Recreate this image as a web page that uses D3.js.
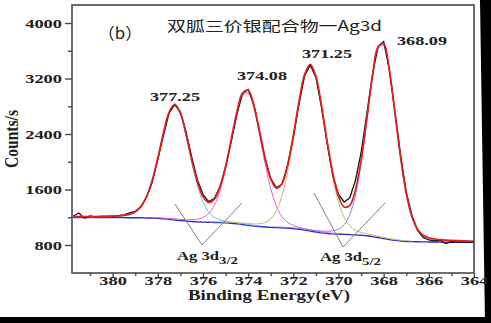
<!DOCTYPE html>
<html><head><meta charset="utf-8">
<script src="https://cdn.jsdelivr.net/npm/d3@7"></script>
<style>body{margin:0;background:#fff}svg{display:block}</style>
</head><body>
<script>
// ---------- data ----------
const E_START = 381.75, E_STEP = 0.25;            // measured energy grid (eV)
const counts = [1215,1262,1185,1218,1205,1212,1208,1215,1222,1235,1262,1285,1350,1490,1700,2030,2380,2700,2825,2720,2430,2070,1740,1530,1425,1470,1640,1920,2290,2680,2985,3040,2830,2440,2050,1760,1625,1680,1950,2360,2830,3240,3395,3220,2780,2260,1800,1530,1420,1480,1730,2130,2680,3250,3660,3735,3330,2720,2100,1560,1230,1010,910,872,860,868,822,850,845,842,840,838];
const background = [1196,1196,1196,1195,1195,1195,1195,1195,1194,1194,1193,1193,1192,1190,1188,1184,1178,1171,1161,1152,1144,1138,1133,1130,1127,1125,1123,1119,1113,1105,1096,1085,1074,1066,1059,1054,1051,1047,1043,1035,1026,1014,1000,987,975,966,960,956,953,950,946,940,933,921,907,892,878,866,857,851,848,846,845,844,843,842,841,840,840,839,839,838];
const peakCenters = [377.25, 374.08, 371.25, 368.09];
const peakHeights = [1645, 1920, 2367, 2816];
const peakFWHM    = [1.55, 1.6, 1.6, 1.5];
const lorentzFraction = 0.12;
const peakColors = ["#5cc6e6", "#ee5ad8", "#b9ba72", "#8f80f2"];
const yTicks = [800, 1600, 2400, 3200, 4000];
const yMinor = [1200, 2000, 2800, 3600];
const xTicks = [380, 378, 376, 374, 372, 370, 368, 366, 364];
const xMinor = [381, 379, 377, 375, 373, 371, 369, 367, 365];
const title = "双胍三价银配合物一Ag3d";
const panel = "（b）";
const peakLabels = ["377.25", "374.08", "371.25", "368.09"];

// ---------- setup ----------
const W = 491, H = 323;
const svg = d3.select("body").append("svg").attr("width", W).attr("height", H);
const serif = "'Liberation Serif','Times New Roman',serif";
const x = d3.scaleLinear().domain([381.8, 364]).range([72, 474]);
const y = d3.scaleLinear().domain([396, 4260]).range([273, 5]);

const energy = counts.map((_, i) => E_START - i * E_STEP);
function voigt(e, k) {
  const d = e - peakCenters[k], w = peakFWHM[k];
  const g = Math.exp(-4 * Math.LN2 * d * d / (w * w));
  const l = 1 / (1 + 4 * d * d / (w * w));
  return peakHeights[k] * ((1 - lorentzFraction) * g + lorentzFraction * l);
}
const comps = peakCenters.map((c, k) => energy.map((e, i) => ({e, v: voigt(e, k), b: background[i]})));
const fit = energy.map((e, i) => ({e, v: background[i] + d3.sum(peakCenters, (c, k) => voigt(e, k))}));

// ---------- black edges of the scan ----------
svg.append("polygon").attr("points", "480,0 491,0 491,323 485,323").attr("fill", "#000");
svg.append("rect").attr("x", 0).attr("y", 317).attr("width", W).attr("height", 6).attr("fill", "#000");

const plot = svg.append("g");
plot.append("clipPath").attr("id", "c").append("rect").attr("x", 72).attr("y", 5).attr("width", 402).attr("height", 268);
const g = plot.append("g").attr("clip-path", "url(#c)");

const line = d3.line().curve(d3.curveCatmullRom.alpha(0.5));

// background
g.append("path").attr("d", line(energy.map((e, i) => [x(e), y(background[i])])))
  .attr("fill", "none").attr("stroke", "#2d2dc8").attr("stroke-width", 1.4);
// components
comps.forEach((arr, k) => {
  const l = d3.line().defined(d => d.v > 8).curve(d3.curveCatmullRom.alpha(0.5))
    .x(d => x(d.e)).y(d => y(d.b + d.v));
  g.append("path").attr("d", l(arr)).attr("fill", "none").attr("stroke", peakColors[k]).attr("stroke-width", 1);
});
// raw data
g.append("path").attr("d", d3.line().x((d, i) => x(energy[i])).y(d => y(d))(counts))
  .attr("fill", "none").attr("stroke", "#151515").attr("stroke-width", 1.3);
// fit envelope
g.append("path").attr("d", line(fit.map(d => [x(d.e), y(d.v)])))
  .attr("fill", "none").attr("stroke", "#e3201b").attr("stroke-width", 1.7);

// ---------- frame & axes ----------
plot.append("rect").attr("x", 72).attr("y", 5).attr("width", 402).attr("height", 268)
  .attr("fill", "none").attr("stroke", "#4a4a4a").attr("stroke-width", 1.6);

const yAx = svg.append("g").attr("transform", "translate(72,0)")
  .call(d3.axisLeft(y).tickValues(yTicks).tickSize(7).tickPadding(3).tickFormat(d3.format("d")));
svg.append("g").attr("transform", "translate(72,0)")
  .call(d3.axisLeft(y).tickValues(yMinor).tickSize(4).tickFormat(""));
const xAx = svg.append("g").attr("transform", "translate(0,273)")
  .call(d3.axisBottom(x).tickValues(xTicks).tickSize(5).tickFormat(d3.format("d")));
svg.append("g").attr("transform", "translate(0,273)")
  .call(d3.axisBottom(x).tickValues(xMinor).tickSize(3).tickFormat(""));
svg.selectAll(".domain").remove();
svg.selectAll(".tick line").attr("stroke", "#4a4a4a").attr("stroke-width", 1.4);
svg.selectAll(".tick text").attr("font-family", serif).attr("font-weight", "bold")
  .attr("font-size", 12.5).attr("fill", "#222")
  .attr("lengthAdjust", "spacingAndGlyphs")
  .attr("textLength", function() { return this.textContent.length * 9.2; });
yAx.selectAll(".tick text").attr("dy", "0.34em");
xAx.selectAll(".tick text").attr("y", 12).attr("dy", 0);

// axis titles
svg.append("text").attr("x", 269).attr("y", 300).attr("text-anchor", "middle")
  .attr("font-family", serif).attr("font-weight", "bold").attr("font-size", 14.5).attr("fill", "#222")
  .attr("textLength", 162).attr("lengthAdjust", "spacingAndGlyphs").text("Binding Energy(eV)");
svg.append("text").attr("transform", "translate(18,139) scale(1.35,1) rotate(-90)").attr("text-anchor", "middle")
  .attr("font-family", serif).attr("font-weight", "bold").attr("font-size", 14).attr("fill", "#222")
  .attr("textLength", 58).attr("lengthAdjust", "spacingAndGlyphs").text("Counts/s");

// title & panel letter
svg.append("text").attr("x", 167).attr("y", 31)
  .attr("font-family", "'Noto Sans CJK SC', sans-serif").attr("font-size", 14).attr("fill", "#222")
  .attr("textLength", 215).attr("lengthAdjust", "spacingAndGlyphs").text(title);
svg.append("text").attr("x", 98).attr("y", 39)
  .attr("font-family", "'Noto Sans CJK SC', serif").attr("font-size", 16).attr("fill", "#222")
  .attr("textLength", 44).attr("lengthAdjust", "spacingAndGlyphs").text(panel);

// peak labels
const labelPos = [[175, 101], [262, 80], [327, 58], [422, 45]];
peakLabels.forEach((t, k) => {
  svg.append("text").attr("x", labelPos[k][0]).attr("y", labelPos[k][1]).attr("text-anchor", "middle")
    .attr("font-family", serif).attr("font-weight", "bold").attr("font-size", 13).attr("fill", "#222")
    .attr("textLength", 50).attr("lengthAdjust", "spacingAndGlyphs").text(t);
});

// spin-orbit annotations
const ann = [
  {lines: [[175, 204, 202, 245], [202, 245, 242, 203]], tx: 177, ty: 260, sub: "3/2"},
  {lines: [[314, 193, 343, 247], [343, 247, 385, 203]], tx: 320, ty: 261, sub: "5/2"}
];
ann.forEach(a => {
  a.lines.forEach(l => svg.append("line").attr("x1", l[0]).attr("y1", l[1]).attr("x2", l[2]).attr("y2", l[3])
    .attr("stroke", "#808080").attr("stroke-width", 1));
  svg.append("text").attr("x", a.tx).attr("y", a.ty)
    .attr("font-family", serif).attr("font-weight", "bold").attr("font-size", 13).attr("fill", "#222")
    .attr("textLength", 42).attr("lengthAdjust", "spacingAndGlyphs").text("Ag 3d");
  svg.append("text").attr("x", a.tx + 42).attr("y", a.ty + 4)
    .attr("font-family", serif).attr("font-weight", "bold").attr("font-size", 9.5).attr("fill", "#222")
    .attr("textLength", 19).attr("lengthAdjust", "spacingAndGlyphs").text(a.sub);
});
</script>
</body></html>
